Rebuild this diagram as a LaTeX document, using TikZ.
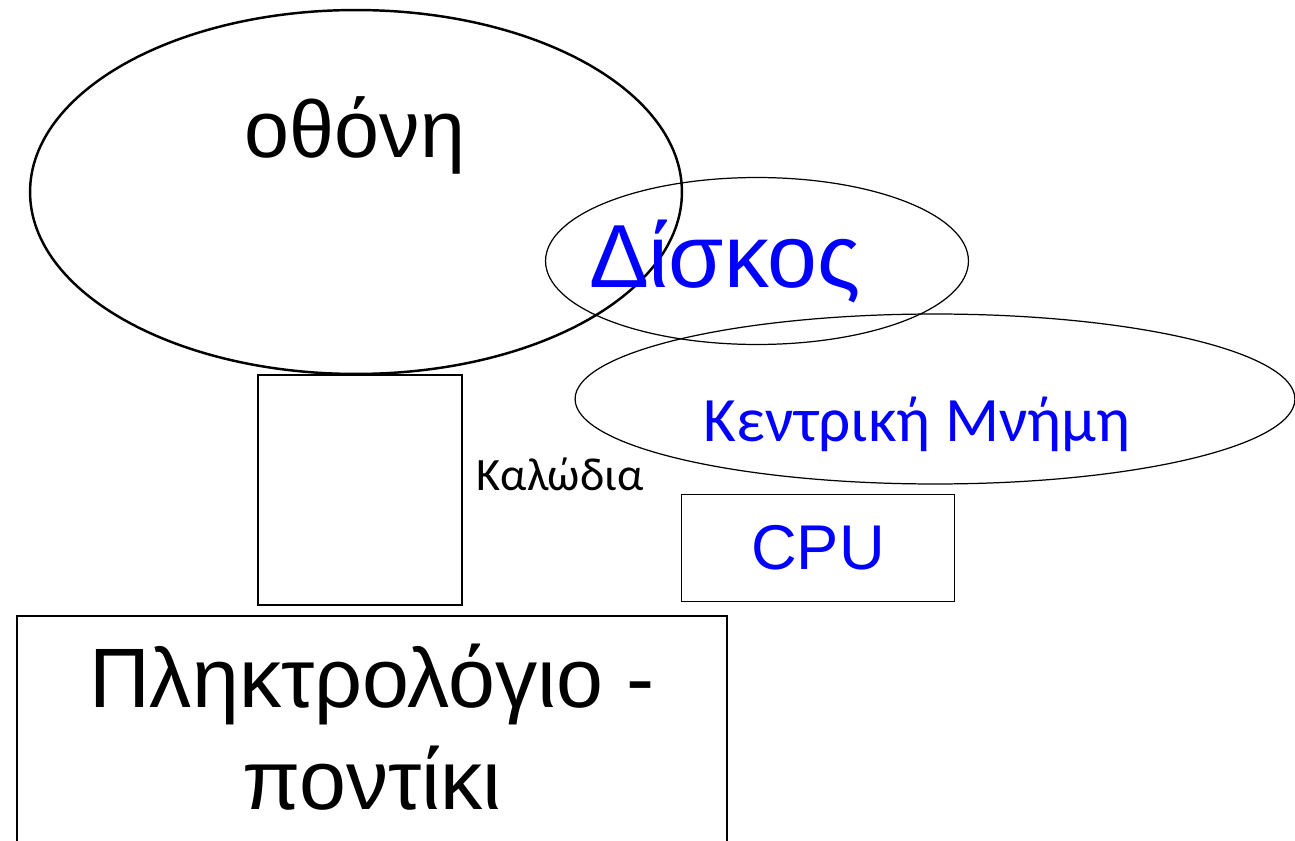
\documentclass[tikz,border=0pt]{standalone}
\usepackage{fontspec}
\setmainfont{Liberation Sans}
\newfontfamily\cfont{Carlito}
\usetikzlibrary{shapes.geometric}
\tikzset{
	blob/.style 2 args={ellipse,draw,inner sep=0pt,minimum width=#1,minimum height=#2},
	box/.style 2 args={rectangle,draw,inner sep=0pt,minimum width=#1,minimum height=#2},
	txt/.style={anchor=base,inner sep=0pt}
}

\begin{document}
\begin{tikzpicture}[x=0.02cm,y=-0.02cm]
	\useasboundingbox (0,0) rectangle (1295,841);
	\node [blob={13.04cm}{7.28cm},line width=1.4pt] (screen) at (356, 192) {};
	\node [blob={8.46cm}{3.34cm},line width=0.7pt] (disk) at (757, 261) {};
	\node [blob={14.4cm}{3.4cm},line width=0.7pt] (memory) at (935, 399) {};
	\node [box={4.08cm}{4.6cm},line width=0.8pt] (cable) at (360, 490) {};
	\node [box={5.46cm}{2.14cm},line width=0.8pt,text=blue,font=\fontsize{36}{40}\selectfont] (cpu) at (818, 548) {CPU};
	\node [box={14.2cm}{5.68cm},line width=1.4pt] (keyboard) at (372, 758) {};

	\node [txt,font=\fontsize{46}{50}\selectfont] (screentxt) at (355, 158) {οθόνη};
	\node [txt,text=blue,font=\fontsize{51}{55}\selectfont] (disktxt) at (725, 288) {Δίσκος};
	\node [txt,text=blue,font=\cfont\fontsize{36}{40}\selectfont] (memorytxt) at (917, 441) {Κεντρική Μνήμη};
	\node [txt,font=\cfont\fontsize{26.4}{30}\selectfont] (cabletxt) at (560, 490) {Καλώδια};
	\node [align=center,inner sep=0pt,font=\fontsize{48}{58.4}\selectfont] (keyboardtxt) at (372, 727) {Πληκτρολόγιο -\\ποντίκι};
\end{tikzpicture}
\end{document}
